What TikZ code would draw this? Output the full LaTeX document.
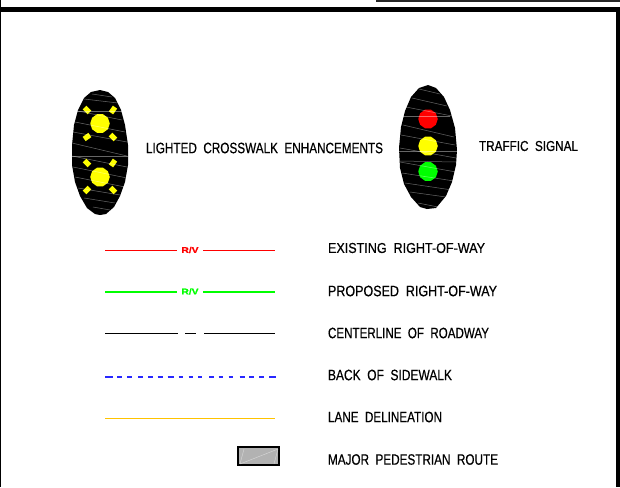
\documentclass[tikz,border=0pt]{standalone}
\usepackage{fontspec}
\setmainfont[FakeBold=0.6]{Liberation Sans}
\usepackage{graphicx}
\definecolor{legred}{RGB}{255,0,0}
\definecolor{leggreen}{RGB}{0,255,0}
\definecolor{legyellow}{RGB}{255,255,0}
\definecolor{legblue}{RGB}{40,40,255}
\definecolor{legorange}{RGB}{255,195,0}
\newcommand{\lbl}[6]{\node[legtext] (#1) at (#2,#3) {\resizebox{#4pt}{#5pt}{#6}};}
\newcommand{\gp}{\hspace{0.55em}}
\tikzset{
  legtext/.style={anchor=west,inner sep=0pt,outer sep=0pt,text=black},
  legline/.style={line width=1.8pt},
  hatch/.style={draw=white,opacity=.4,line width=.5pt},
  lamp/.style={regular polygon,regular polygon sides=10,minimum size=19.5pt,inner sep=0pt},
  spark/.style={fill=legyellow,draw=none,rectangle,minimum width=5.2pt,minimum height=7pt,inner sep=0pt},
  signalbody/.style={fill=black,draw=none}
}
\usetikzlibrary{shapes.geometric}
\begin{document}
\begin{tikzpicture}[x=1pt,y=-1pt]
\useasboundingbox (0,0) rectangle (620,487);
\fill[white] (0,0) rectangle (620,487);
% frame
\fill[black] (0,7) rectangle (620,12.5);
\fill[black] (615.5,7) rectangle (620,487);
\fill[black] (0,0) rectangle (1.3,487);
\fill[black!85] (376,0) rectangle (620,2);
% left signal
\fill[signalbody] (100,90) -- (91,92) -- (84,98) -- (78,110) -- (74,125) -- (72,145) -- (72,165) -- (75,182) -- (80,196) -- (87,208) -- (95,214) -- (100,215) -- (106,214) -- (114,207) -- (120,196) -- (125,182) -- (128,165) -- (128,145) -- (125,125) -- (121,110) -- (115,98) -- (108,92) -- cycle;
\node[lamp,fill=legyellow] (la) at (100,123.5) {};
\node[lamp,fill=legyellow] (lb) at (100,177) {};
\foreach \n/\x/\y/\r in {a/87/110/45,b/113/110/-35,c/87/137/-55,d/113/137/45,e/87/163/45,f/113/163/-35,g/87/190/-45,h/113/190/45}
  \node[spark,rotate=\r] (s\n) at (\x,\y) {};
\foreach \a/\b/\c/\d in {92/94/112/97,84/99/118/103,78/111/122/120,75/122/125/132,73/132/127/142,72/143/127/156,72/156/127/167,73/167/127/178,75/177/125/187,78/188/120/195,84/198/115/203,93/207/110/210,72/156/128/156,75/111/122/111}
  \draw[hatch] (\a,\b) -- (\c,\d);
% right signal
\fill[signalbody] (428,85) -- (419,88) -- (411,97) -- (405,111) -- (401,127) -- (399,148) -- (400,168) -- (404,184) -- (411,197) -- (420,207) -- (427,209) -- (436,208) -- (446,196) -- (452,182) -- (456,165) -- (457,150) -- (455,128) -- (450,110) -- (444,97) -- (436,88) -- cycle;
\node[lamp,fill=legred] (ra) at (428,119) {};
\node[lamp,fill=legyellow] (rb) at (428,146) {};
\node[lamp,fill=leggreen] (rc) at (428,171.5) {};
\foreach \a/\b/\c/\d in {419/89/440/94,412/98/447/106,406/107/452/116,403/125/454/137,402/116/450/116,401/135/455/145,400/148/456/158,399/151/457/151,400/161/456/162,400/162/456/172,402/173/454/181,405/183/452/190,410/192/446/197,418/203/438/207}
  \draw[hatch] (\a,\b) -- (\c,\d);
% top labels
\lbl{lighted}{146}{148}{237}{10.5}{LIGHTED\gp CROSSWALK\gp ENHANCEMENTS}
\lbl{traffic}{479}{146}{99}{10}{TRAFFIC\gp SIGNAL}
% legend lines
\coordinate (ra1) at (105,250.5); \coordinate (ra2) at (177,250.5);
\coordinate (ra3) at (203,250.5); \coordinate (ra4) at (275,250.5);
\draw[legline,legred] (ra1) -- (ra2) (ra3) -- (ra4);
\node[inner sep=0pt,text=legred] (rv1) at (190,250) {\resizebox{17pt}{6pt}{\textbf{R/V}}};
\coordinate (ga1) at (105,292); \coordinate (ga2) at (177,292);
\coordinate (ga3) at (203,292); \coordinate (ga4) at (275,292);
\draw[legline,leggreen] (ga1) -- (ga2) (ga3) -- (ga4);
\node[inner sep=0pt,text=leggreen] (rv2) at (190,291.5) {\resizebox{17pt}{6pt}{\textbf{R/V}}};
\coordinate (ka1) at (105,333.5); \coordinate (ka2) at (178,333.5);
\coordinate (ka3) at (185,333.5); \coordinate (ka4) at (196,333.5);
\coordinate (ka5) at (204,333.5); \coordinate (ka6) at (275,333.5);
\draw[legline,black] (ka1) -- (ka2) (ka3) -- (ka4) (ka5) -- (ka6);
\coordinate (ba1) at (105,377); \coordinate (ba2) at (275.5,377);
\draw[line width=1.8pt,legblue,dash pattern=on 7.5 off 4.5 on 4.5 off 5.5 on 4.5 off 6.5 on 5 off 5 on 4.5 off 5 on 5 off 5 on 6 off 5 on 4.5 off 5.5 on 4.5 off 5 on 4 off 7 on 4.5 off 5 on 4.5 off 5.5 on 4.5 off 6.5 on 5 off 4.5 on 5 off 5 on 4.5 off 5.5 on 7.5 off 10] (ba1) -- (ba2);
\coordinate (oa1) at (105,418.5); \coordinate (oa2) at (275,418.5);
\draw[legline,legorange] (oa1) -- (oa2);
% route swatch
\node[draw=black,line width=1.9pt,fill=black!30,minimum width=41pt,minimum height=17.5pt,inner sep=0pt,anchor=north west,outer sep=0pt] (swatch) at (238.3,447.3) {};
\draw[white,opacity=.5,line width=.4pt] (240,464) -- (244,449) (240,464) -- (278,449) (274,464) -- (278,449);
% legend labels
\lbl{existing}{328}{248}{157}{10}{EXISTING\gp RIGHT-OF-WAY}
\lbl{proposed}{328}{291}{169}{10.5}{PROPOSED\gp RIGHT-OF-WAY}
\lbl{center}{328}{333}{161}{10.5}{CENTERLINE\gp OF\gp ROADWAY}
\lbl{back}{328}{375}{124}{10.5}{BACK\gp OF\gp SIDEWALK}
\lbl{lane}{328}{417}{114}{10.5}{LANE\gp DELINEATION}
\lbl{major}{328}{459.5}{170}{10.5}{MAJOR\gp PEDESTRIAN\gp ROUTE}
\end{tikzpicture}
\end{document}
